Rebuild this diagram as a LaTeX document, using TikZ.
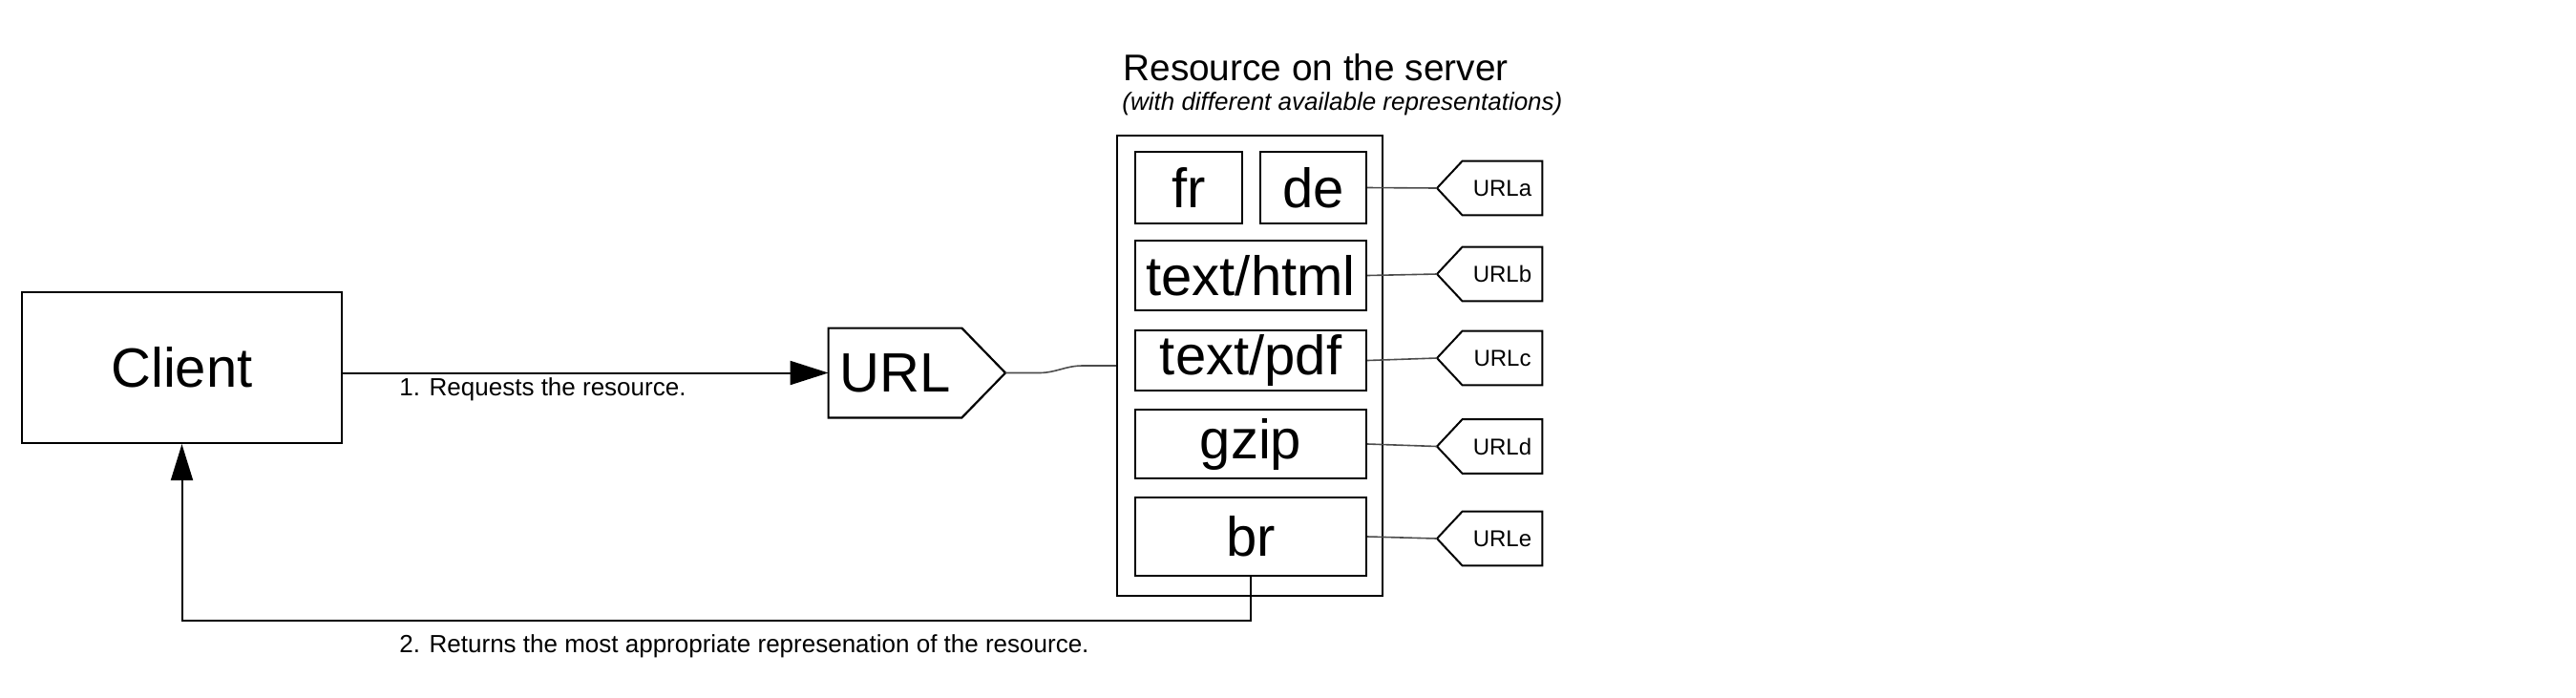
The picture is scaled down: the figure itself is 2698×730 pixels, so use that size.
\documentclass[tikz,border=0pt]{standalone}
\usepackage{fontspec}
\setmainfont{Liberation Sans}
\usetikzlibrary{arrows.meta,calc}
\begin{document}
\begin{tikzpicture}[x=0.5pt,y=-0.5pt,
  big/.style={font=\fontsize{29}{34}\selectfont},
  box/.style={draw=black,line width=1.1pt,inner sep=0pt,big},
  rep/.style={box,line width=1.2pt},
  tagbody/.style={inner sep=0pt,minimum width=41.5pt,minimum height=28pt,font=\fontsize{12}{14}\selectfont},
  tagline/.style={draw=black,line width=1pt,line join=miter},
  conn/.style={draw=black!70,line width=0.8pt},
  flow/.style={draw=black,line width=1pt,-{Triangle[length=20pt,width=12.5pt]}},
  lbl/.style={font=\fontsize{13}{15}\selectfont,inner sep=0pt,anchor=base west}]
\useasboundingbox (0,0) rectangle (2698,730);
% client
\node[box,minimum width=167.5pt,minimum height=79pt] (client) at (190.5,385) {Client};
% URL
\node[inner sep=0pt,minimum width=69.5pt,minimum height=46.5pt,big] (url) at (937.5,390.5) {URL};
\coordinate (urltip) at (1053,390.5);
\draw[tagline,line width=1.1pt] (url.north west) -- (url.north east) -- (urltip) -- (url.south east) -- (url.south west) -- cycle;
% server
\node[anchor=base west,inner sep=0pt,font=\fontsize{19.4}{22}\selectfont] (title) at (1176,84) {Resource on the server};
\node[anchor=base west,inner sep=0pt,font=\fontsize{13}{15}\selectfont\itshape] (subtitle) at (1175,115) {(with different available representations)};
\node[draw,line width=1.2pt,minimum width=139pt,minimum height=241pt,inner sep=0pt] (server) at (1309,383) {};
\node[rep,minimum width=56pt,minimum height=37.5pt] (fr) at (1245,196.5) {fr};
\node[rep,minimum width=55.5pt,minimum height=37.5pt] (de) at (1375.5,196.5) {de};
\node[rep,minimum width=121pt,minimum height=36.5pt] (html) at (1310,288.5) {text/html};
\node[rep,minimum width=121pt,minimum height=31.5pt] (pdf) at (1310,377.5) {text/pdf};
\node[rep,minimum width=121pt,minimum height=36pt] (gzip) at (1310,465) {gzip};
\node[rep,minimum width=121pt,minimum height=41pt] (br) at (1310,562) {br};
% tags
\foreach \n/\y in {a/197,b/287,c/375,d/467.5,e/564}{
  \node[tagbody] (t\n) at (1573.5,\y) {URL\n};
  \coordinate (t\n tip) at (1505,\y);
  \draw[tagline] (t\n.north west) -- (t\n.north east) -- (t\n.south east) -- (t\n.south west) -- (t\n tip) -- cycle;
}
\foreach \s/\n in {de/a,html/b,pdf/c,gzip/d,br/e}{
  \draw[conn] (\s.east) -- (t\n tip);
}
% connections
\draw[flow] (client.east |- url.west) -- (url.west);
\node[lbl] (l1) at (418,414) {1. Requests the resource.};
\draw[conn] (urltip) -- ++(35,0) to[out=0,in=180] ($(server.west)+(-35,0)$) -- (server.west);
\coordinate (retc) at (190.5,650);
\draw[flow,-{Triangle[length=19pt,width=11.5pt]}] (br.south) |- (retc) -- (client.south);
\node[lbl] (l2) at (418,683) {2. Returns the most appropriate represenation of the resource.};
\end{tikzpicture}
\end{document}
